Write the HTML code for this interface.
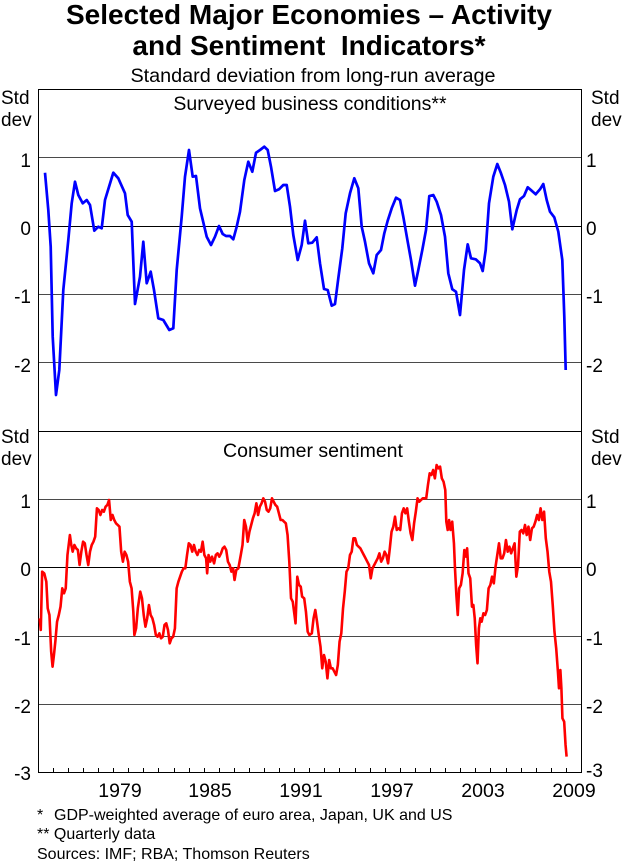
<!DOCTYPE html>
<html>
<head>
<meta charset="utf-8">
<style>
  html, body { margin: 0; padding: 0; background: #ffffff; }
  body { width: 622px; height: 863px; overflow: hidden; }
  svg { display: block; }
  text { font-family: "Liberation Sans", Arial, sans-serif; fill: #000; }
</style>
</head>
<body>
<svg width="622" height="863" viewBox="0 0 622 863" xmlns="http://www.w3.org/2000/svg">
  <!-- Titles -->
  <text x="309" y="24" font-size="28" font-weight="bold" text-anchor="middle">Selected Major Economies – Activity</text>
  <text x="309" y="55" font-size="28" font-weight="bold" text-anchor="middle">and Sentiment &#160;Indicators*</text>
  <text x="313" y="82" font-size="19.8" text-anchor="middle">Standard deviation from long-run average</text>

  <!-- Gridlines -->
  <g stroke="#4a4a4a" stroke-width="1">
    <line x1="38" y1="157.5" x2="581" y2="157.5"/>
    <line x1="38" y1="294.5" x2="581" y2="294.5"/>
    <line x1="38" y1="362.5" x2="581" y2="362.5"/>
    <line x1="38" y1="499.5" x2="581" y2="499.5"/>
    <line x1="38" y1="636.5" x2="581" y2="636.5"/>
    <line x1="38" y1="704.5" x2="581" y2="704.5"/>
  </g>
  <g stroke="#000" stroke-width="1">
    <line x1="38" y1="226.5" x2="581" y2="226.5"/>
    <line x1="38" y1="567.5" x2="581" y2="567.5"/>
    <line x1="38" y1="431.5" x2="581" y2="431.5"/>
  </g>

  <!-- Frame -->
  <rect x="38.5" y="89.5" width="543" height="683" fill="none" stroke="#000" stroke-width="1"/>

  <!-- X ticks -->
  <g stroke="#000" stroke-width="1">
    <line x1="53.5" y1="768" x2="53.5" y2="772"/><line x1="68.5" y1="768" x2="68.5" y2="772"/>
    <line x1="83.5" y1="768" x2="83.5" y2="772"/><line x1="98.5" y1="768" x2="98.5" y2="772"/>
    <line x1="113.5" y1="768" x2="113.5" y2="772"/><line x1="128.5" y1="768" x2="128.5" y2="772"/>
    <line x1="143.5" y1="768" x2="143.5" y2="772"/><line x1="158.5" y1="768" x2="158.5" y2="772"/>
    <line x1="174.5" y1="768" x2="174.5" y2="772"/><line x1="189.5" y1="768" x2="189.5" y2="772"/>
    <line x1="204.5" y1="768" x2="204.5" y2="772"/><line x1="219.5" y1="768" x2="219.5" y2="772"/>
    <line x1="234.5" y1="768" x2="234.5" y2="772"/><line x1="249.5" y1="768" x2="249.5" y2="772"/>
    <line x1="264.5" y1="768" x2="264.5" y2="772"/><line x1="279.5" y1="768" x2="279.5" y2="772"/>
    <line x1="294.5" y1="768" x2="294.5" y2="772"/><line x1="309.5" y1="768" x2="309.5" y2="772"/>
    <line x1="324.5" y1="768" x2="324.5" y2="772"/><line x1="339.5" y1="768" x2="339.5" y2="772"/>
    <line x1="355.5" y1="768" x2="355.5" y2="772"/><line x1="370.5" y1="768" x2="370.5" y2="772"/>
    <line x1="385.5" y1="768" x2="385.5" y2="772"/><line x1="400.5" y1="768" x2="400.5" y2="772"/>
    <line x1="415.5" y1="768" x2="415.5" y2="772"/><line x1="430.5" y1="768" x2="430.5" y2="772"/>
    <line x1="445.5" y1="768" x2="445.5" y2="772"/><line x1="460.5" y1="768" x2="460.5" y2="772"/>
    <line x1="475.5" y1="768" x2="475.5" y2="772"/><line x1="490.5" y1="768" x2="490.5" y2="772"/>
    <line x1="506.5" y1="768" x2="506.5" y2="772"/><line x1="521.5" y1="768" x2="521.5" y2="772"/>
    <line x1="536.5" y1="768" x2="536.5" y2="772"/><line x1="551.5" y1="768" x2="551.5" y2="772"/>
    <line x1="566.5" y1="768" x2="566.5" y2="772"/>
  </g>

  <!-- Panel titles -->
  <text x="310" y="110" font-size="19.5" text-anchor="middle">Surveyed business conditions**</text>
  <text x="313" y="457" font-size="19.5" text-anchor="middle">Consumer sentiment</text>

  <!-- Std dev labels -->
  <g font-size="19">
    <text x="1" y="104">Std</text><text x="1" y="126">dev</text>
    <text x="591" y="104">Std</text><text x="591" y="126">dev</text>
    <text x="1" y="443">Std</text><text x="1" y="465">dev</text>
    <text x="591" y="443">Std</text><text x="591" y="465">dev</text>
  </g>

  <!-- Y tick labels left -->
  <g font-size="19" text-anchor="end">
    <text x="31" y="167">1</text>
    <text x="31" y="235">0</text>
    <text x="31" y="303">-1</text>
    <text x="31" y="372">-2</text>
    <text x="31" y="508">1</text>
    <text x="31" y="576">0</text>
    <text x="31" y="645">-1</text>
    <text x="31" y="713">-2</text>
    <text x="31" y="780">-3</text>
  </g>
  <!-- Y tick labels right -->
  <g font-size="19" text-anchor="start">
    <text x="586" y="167">1</text>
    <text x="586" y="235">0</text>
    <text x="586" y="303">-1</text>
    <text x="586" y="372">-2</text>
    <text x="586" y="508">1</text>
    <text x="586" y="576">0</text>
    <text x="586" y="645">-1</text>
    <text x="586" y="713">-2</text>
    <text x="586" y="777">-3</text>
  </g>

  <!-- Year labels -->
  <g font-size="19.5" text-anchor="middle">
    <text x="120" y="797">1979</text>
    <text x="210" y="797">1985</text>
    <text x="301" y="797">1991</text>
    <text x="392" y="797">1997</text>
    <text x="483" y="797">2003</text>
    <text x="574" y="797">2009</text>
  </g>

  <!-- Blue series -->
  <polyline fill="none" stroke="#0000ff" stroke-width="2.7" stroke-linejoin="round" stroke-linecap="butt"
    points="45,172.7 48.3,210 50.7,246.7 52.7,336.7 56,395 59.3,370 63.3,290 68.3,240 71.7,203.3 75,181.7 78.3,195 82.7,203.3 86.7,200 90,205 94.3,230.7 98.3,226.7 101.7,228.3 105,200 113.3,172.7 118.3,178.3 125,193.3 127.7,215 131.7,221.7 135,304 140,276.7 143.3,241.7 146.7,283.3 150.7,271.7 154,290 158.3,318.3 163.3,320 169.3,330 173.3,328.3 176.7,270 181.7,216.7 185,176.7 189,150 192.7,176.7 196,176 200,208.3 206.7,236.7 211,245 215,236.7 219,226 222.7,234 226,236 230,236 233.3,239.3 236.7,226.7 240,211.7 244.3,180 248.3,161.7 252.3,171.7 256,152.7 260,150 264.3,146.7 267.7,150 271,166.7 275,191 279,189.3 283.3,185 286.7,185 290,206.7 293.3,235 297.7,260 301.7,245 305,220.7 308.3,243.3 312.3,242.7 316.7,237.3 320,263.3 324,289 327.7,290 331.7,305.7 335,304 338.3,278.3 342.3,248.3 345.7,213.3 350,193.3 354.3,178.3 358.3,188.3 361.7,226.7 365,241.7 369,263.3 373.3,273.3 376.7,255 381,250 384.3,233.3 387.7,220.7 391.7,208.3 396,197.7 400,200 403.3,216.7 407.7,241.7 411,260 415,285.7 418.3,270 422.3,250 426,230 429.3,196 433.3,195 436.7,201.7 441,215 445,236.7 448.3,273.3 452.3,289.3 456,291.7 460,315 464,270 467.7,244.3 471,258.3 475.7,259.3 480,263.3 482.7,271 485.7,250 489,203.3 493.3,176.7 497.3,164 501,173.3 505,185 509,201.7 512.3,229.3 516.7,210 520,199.3 524,196 527.7,187.3 531.7,190.7 535.7,194.3 540,189.3 543.3,184 546.7,200 550,211.7 554.3,217.3 558.3,231.7 562.3,260 564.3,316.7 565.7,370"/>

  <!-- Red series -->
  <g transform="translate(38,455) scale(0.34662,0.33333)">
    <polyline fill="none" stroke="#ff0000" stroke-width="2.6" vector-effect="non-scaling-stroke" stroke-linejoin="round"
      points="5,490 8,525 12,350 18,355 24,380 28,460 33,480 38,590 42,635 46,600 50,560 55,500 60,480 65,455 70,400 75,415 80,400 85,300 92,240 96,270 100,290 105,270 110,280 115,285 120,330 125,290 130,260 135,265 140,300 145,330 150,290 155,270 160,260 165,245 170,160 175,165 180,180 185,165 190,170 195,155 200,150 205,135 210,195 215,180 220,195 225,205 230,210 235,215 240,290 245,320 250,290 255,300 260,320 265,380 270,400 275,470 278,540 283,520 288,460 295,410 300,430 305,480 310,515 315,490 320,450 325,480 330,490 335,510 340,540 345,545 350,535 355,550 360,545 365,510 370,505 375,525 380,565 385,550 390,545 395,520 400,400 405,380 410,365 415,350 420,340 425,340 430,300 435,265 440,270 445,290 450,270 455,290 460,300 465,285 470,290 475,260 480,300 485,310 488,355 492,300 497,320 502,305 508,325 513,300 518,295 523,305 528,295 533,280 538,275 543,285 548,320 553,330 558,350 563,340 567,375 572,345 578,340 585,300 590,270 595,195 600,215 605,260 610,230 615,210 620,190 625,175 630,145 635,180 640,155 645,145 650,130 655,140 660,165 665,170 670,160 675,130 680,140 685,150 690,155 695,175 700,195 705,195 710,200 715,205 720,240 725,320 730,430 735,440 740,480 743,505 748,365 753,390 758,395 762,425 768,430 773,470 778,530 783,540 790,535 795,490 800,465 805,500 810,540 815,575 820,640 825,600 830,620 835,670 840,615 845,640 850,640 855,650 860,660 865,630 870,560 875,535 880,460 885,410 890,350 895,340 900,300 905,290 910,250 915,250 920,270 925,275 930,280 935,290 940,300 945,310 950,320 955,330 960,370 965,340 970,330 975,320 980,310 985,295 990,320 995,310 1000,290 1005,300 1010,325 1015,280 1020,230 1025,215 1030,185 1035,225 1040,220 1045,225 1050,175 1055,160 1060,175 1065,160 1070,200 1075,235 1080,255 1085,205 1090,170 1095,130 1100,140 1105,135 1110,130 1115,130 1120,130 1125,90 1130,55 1135,60 1140,45 1145,70 1150,30 1155,40 1160,35 1165,70 1170,80 1175,105 1178,200 1182,225 1186,195 1190,225 1195,200 1200,265 1203,340 1207,420 1211,480 1215,400 1220,390 1225,355 1230,285 1235,305 1238,280 1242,355 1247,370 1252,455 1256,450 1260,490 1264,570 1268,625 1272,520 1276,490 1280,500 1285,475 1290,480 1295,465 1300,400 1305,390 1310,365 1315,385 1320,335 1325,300 1330,265 1335,310 1340,310 1345,295 1350,255 1355,290 1360,275 1365,295 1370,280 1375,265 1380,365 1385,330 1390,230 1395,225 1400,235 1405,210 1410,240 1415,215 1420,255 1425,220 1430,215 1435,200 1440,180 1445,195 1450,160 1455,195 1460,170 1465,250 1470,290 1475,350 1480,380 1485,450 1490,530 1495,580 1500,650 1503,700 1507,645 1510,700 1513,790 1518,800 1522,870 1525,905"/>
  </g>

  <!-- Footnotes -->
  <g font-size="16">
    <text x="37" y="820">*</text>
    <text x="54" y="820">GDP-weighted average of euro area, Japan, UK and US</text>
    <text x="37" y="839">** Quarterly data</text>
    <text x="37" y="859">Sources: IMF; RBA; Thomson Reuters</text>
  </g>
</svg>
</body>
</html>
